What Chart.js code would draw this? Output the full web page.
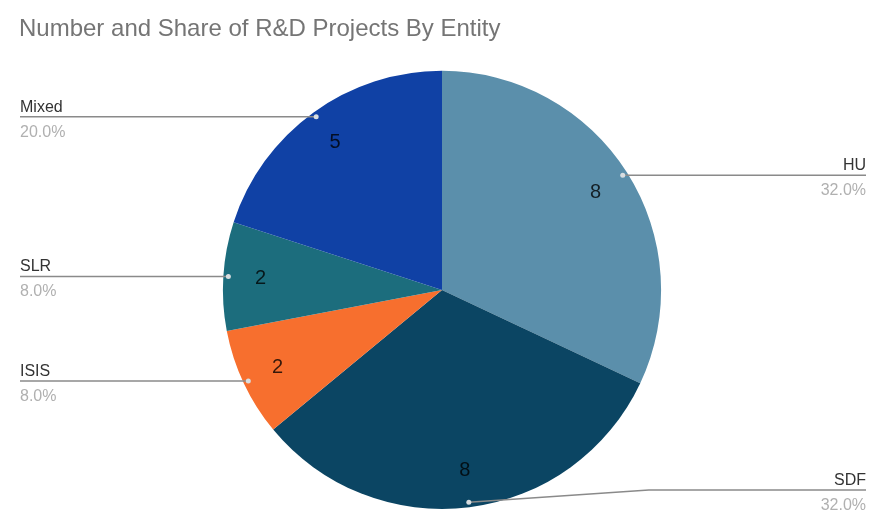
<!DOCTYPE html>
<html>
<head>
<meta charset="utf-8">
<script src="https://cdn.jsdelivr.net/npm/chart.js@4.4.1/dist/chart.umd.min.js"></script>
<style>
  html, body { margin: 0; padding: 0; background: #fff; }
  #wrap { width: 869px; height: 513px; }
</style>
</head>
<body>
<div id="wrap"><canvas id="pie"></canvas></div>
<script>
// data
const entities = ['HU', 'SDF', 'ISIS', 'SLR', 'Mixed'];
const projects = [8, 8, 2, 2, 5];
const sliceColors = ['#5b8fab', '#0b4563', '#f76f2e', '#1c6d7d', '#1041a5'];

const total = projects.reduce((a, b) => a + b, 0);

// value inside each slice + outside label with leader line
const sliceLabels = {
  id: 'sliceLabels',
  afterDatasetsDraw(chart) {
    const ctx = chart.ctx;
    const meta = chart.getDatasetMeta(0);
    const W = chart.width, H = chart.height;
    ctx.save();
    meta.data.forEach((arc, i) => {
      const p = arc.getProps(['x', 'y', 'startAngle', 'endAngle', 'outerRadius'], true);
      const mid = (p.startAngle + p.endAngle) / 2;
      const cx = Math.cos(mid), cy = Math.sin(mid);

      // value
      ctx.fillStyle = 'rgba(0,0,0,0.78)';
      ctx.font = '20px "Liberation Sans", Arial, sans-serif';
      ctx.textAlign = 'center';
      ctx.textBaseline = 'middle';
      ctx.fillText(String(projects[i]), p.x + cx * p.outerRadius * 0.83, p.y + cy * p.outerRadius * 0.83);

      // leader
      const dx = p.x + cx * p.outerRadius * 0.977;
      const dy = p.y + cy * p.outerRadius * 0.977;
      const right = cx > 0;
      const edge = right ? W - 3 : 20;
      const lineY = Math.min(dy, H - 23);
      ctx.strokeStyle = '#8a8a8a';
      ctx.lineWidth = 1.5;
      ctx.beginPath();
      ctx.moveTo(dx, dy);
      if (lineY !== dy) ctx.lineTo(dx + (right ? 180 : -180), lineY);
      ctx.lineTo(edge, lineY);
      ctx.stroke();
      ctx.fillStyle = '#d8dde0';
      ctx.beginPath();
      ctx.arc(dx, dy, 2.5, 0, Math.PI * 2);
      ctx.fill();

      // name and share
      ctx.textAlign = right ? 'right' : 'left';
      ctx.textBaseline = 'alphabetic';
      ctx.font = '16px "Liberation Sans", Arial, sans-serif';
      ctx.fillStyle = '#333';
      ctx.fillText(entities[i], edge, lineY - 5);
      ctx.fillStyle = '#b0b0b0';
      ctx.fillText((projects[i] / total * 100).toFixed(1) + '%', edge, lineY + 20);
    });
    ctx.restore();
  }
};

new Chart(document.getElementById('pie'), {
  type: 'pie',
  data: {
    labels: entities,
    datasets: [{
      data: projects,
      backgroundColor: sliceColors,
      borderWidth: 0
    }]
  },
  options: {
    responsive: true,
    maintainAspectRatio: false,
    animation: false,
    layout: { padding: { left: 19, right: 4, top: 0, bottom: 4 } },
    plugins: {
      legend: { display: false },
      tooltip: { enabled: false },
      title: {
        display: true,
        text: 'Number and Share of R&D Projects By Entity',
        align: 'start',
        color: '#757575',
        font: { family: '"Liberation Sans", Arial, sans-serif', size: 24, weight: 'normal' },
        padding: { top: 15, bottom: 27 }
      }
    }
  },
  plugins: [sliceLabels]
});
</script>
</body>
</html>
